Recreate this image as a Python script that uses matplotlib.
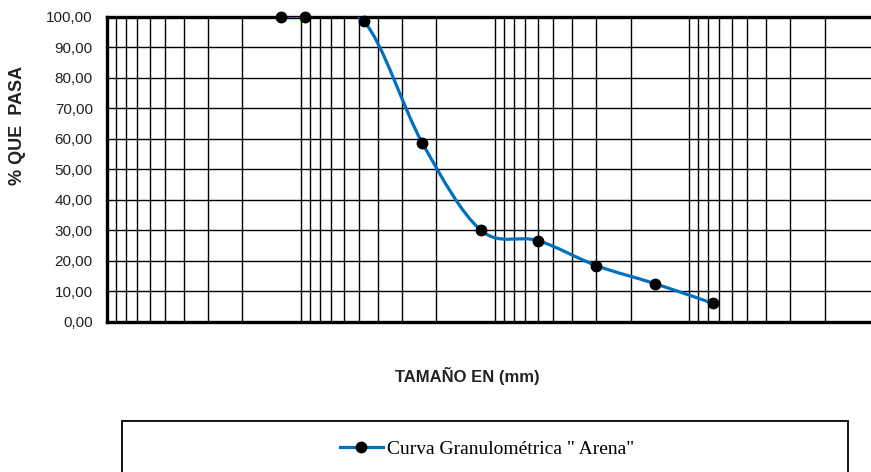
import matplotlib
matplotlib.use("Agg")
import matplotlib.pyplot as plt
import numpy as np
from matplotlib.path import Path
from matplotlib.patches import PathPatch, Rectangle
from matplotlib.lines import Line2D
from matplotlib.ticker import LogLocator, NullFormatter, FuncFormatter

# sieve openings (mm) and percent passing
tamano = [12.7, 9.525, 4.75, 2.36, 1.18, 0.6, 0.3, 0.15, 0.075]
pasa = [100.0, 100.0, 98.6, 58.5, 30.0, 26.6, 18.4, 12.5, 6.0]
yticks = [0, 10, 20, 30, 40, 50, 60, 70, 80, 90, 100]

plt.rcParams['font.family'] = ['Liberation Sans', 'DejaVu Sans']

fig = plt.figure(figsize=(8.71, 4.72), dpi=100)
ax = fig.add_axes([106.7 / 871, 1 - 321.7 / 472, (883 - 106.7) / 871, (321.7 - 16.7) / 472])

ax.set_xscale('log')
ax.set_xlim(100, 0.01)
ax.set_ylim(0, 100)

ax.xaxis.set_major_locator(LogLocator(base=10))
ax.xaxis.set_minor_locator(LogLocator(base=10, subs=np.arange(2, 10)))
ax.xaxis.set_major_formatter(NullFormatter())
ax.xaxis.set_minor_formatter(NullFormatter())
ax.set_yticks(yticks)
ax.yaxis.set_major_formatter(FuncFormatter(lambda v, p: f"{v:.2f}".replace('.', ',')))
ax.tick_params(axis='both', which='both', length=0)
ax.tick_params(axis='y', labelsize=11, pad=10, colors='#222222')

ax.grid(True, which='both', axis='x', color='black', lw=1.0)
ax.grid(True, which='major', axis='y', color='black', lw=1.0)
ax.set_axisbelow(True)

for s in ['left', 'top', 'bottom']:
    ax.spines[s].set_linewidth(2.4)
ax.spines['right'].set_visible(False)

# smoothed line (Excel-like cardinal spline drawn as bezier segments)
lx = np.log10(tamano)
py = np.array(pasa)
n = len(lx)
verts = [(tamano[0], pasa[0])]
codes = [Path.MOVETO]
for i in range(n - 1):
    x0, y0 = lx[max(i - 1, 0)], py[max(i - 1, 0)]
    x1, y1 = lx[i], py[i]
    x2, y2 = lx[i + 1], py[i + 1]
    x3, y3 = lx[min(i + 2, n - 1)], py[min(i + 2, n - 1)]
    c1 = (x1 + (x2 - x0) / 6, y1 + (y2 - y0) / 6)
    c2 = (x2 - (x3 - x1) / 6, y2 - (y3 - y1) / 6)
    verts += [(10 ** c1[0], c1[1]), (10 ** c2[0], c2[1]), (10 ** x2, y2)]
    codes += [Path.CURVE4] * 3
ax.add_patch(PathPatch(Path(verts, codes), fill=False, edgecolor='#0070C0', lw=2.3, zorder=3))
ax.plot(tamano, pasa, ls='none', marker='o', ms=7.5, color='black', zorder=4, clip_on=False)

fig.text(18 / 871, 1 - 125 / 472, '% QUE  PASA', rotation=90, ha='center', va='center',
         fontsize=13, fontweight='bold', color='#222222')
fig.text(467 / 871, 1 - 376 / 472, 'TAMAÑO EN (mm)', ha='center', va='center',
         fontsize=12, fontweight='bold', color='#222222')

# legend box
fig.patches.append(Rectangle((121.7 / 871, 1 - 480 / 472), (848.3 - 121.7) / 871, (480 - 421) / 472,
                             transform=fig.transFigure, fill=False, edgecolor='black', lw=1.3))
handle = Line2D([], [], color='#0070C0', lw=2.3, marker='o', ms=7.5, mfc='black', mec='black')
fig.legend([handle], ['Curva Granulométrica " Arena"'], loc='center', bbox_to_anchor=(487 / 871, 1 - 449 / 472),
           frameon=False, handlelength=2.2, handletextpad=0.2,
           prop={'family': ['Liberation Serif', 'DejaVu Serif'], 'size': 14})

fig.savefig('out.png', dpi=100)
